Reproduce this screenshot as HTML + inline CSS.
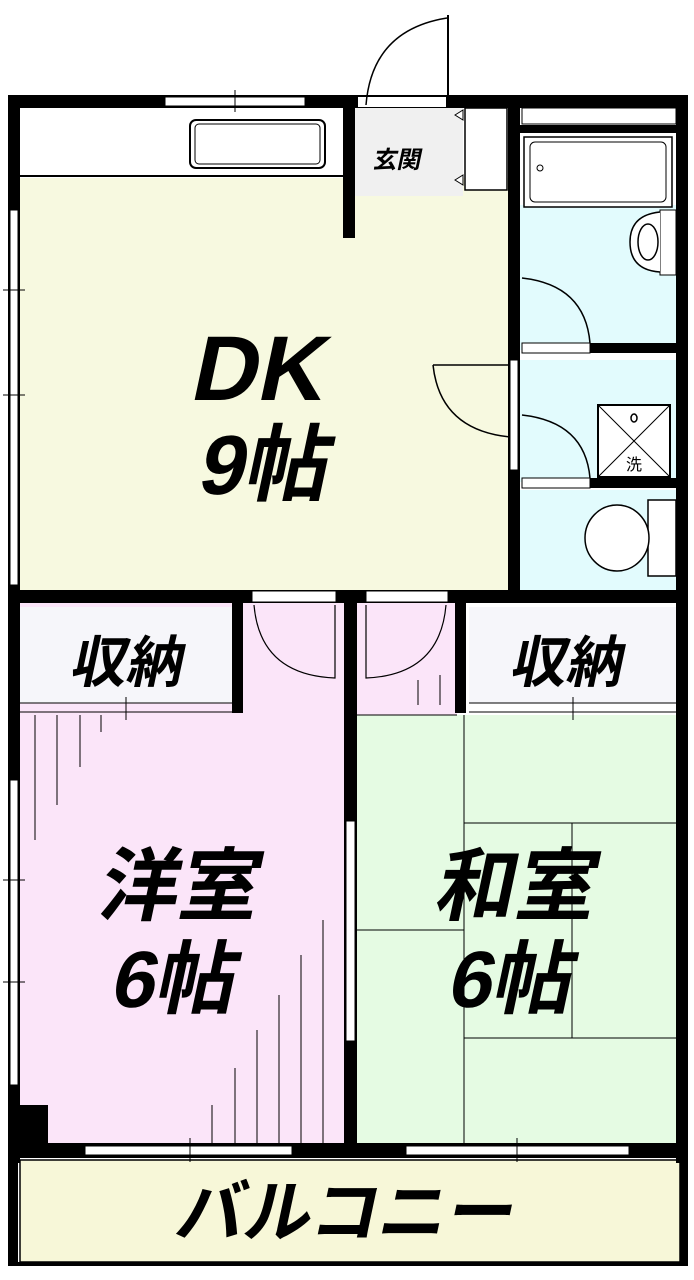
<!DOCTYPE html>
<html><head><meta charset="utf-8"><style>
html,body{margin:0;padding:0;background:#fff;}
svg{display:block}
text{font-family:"Liberation Sans","Noto Sans CJK JP",sans-serif;font-weight:bold;fill:#000}
</style></head><body>
<svg width="694" height="1280" viewBox="0 0 694 1280" xmlns="http://www.w3.org/2000/svg">
<rect width="694" height="1280" fill="#fff"/>
<rect x="20" y="178" width="490" height="415" fill="#f7f9e0"/>
<rect x="20" y="108" width="325" height="70" fill="#fff"/>
<rect x="355" y="108" width="108" height="88" fill="#f0f0f0"/>
<rect x="520" y="205" width="158" height="145" fill="#e2fbfd"/>
<rect x="520" y="360" width="158" height="122" fill="#e2fbfd"/>
<rect x="520" y="490" width="158" height="103" fill="#e2fbfd"/>
<rect x="20" y="603" width="325" height="540" fill="#fbe5f9"/>
<rect x="357" y="603" width="100" height="112" fill="#fbe5f9"/>
<rect x="357" y="715" width="322" height="428" fill="#e5fbe3"/>
<rect x="20" y="607" width="212" height="96" fill="#f6f6fa"/>
<rect x="469" y="607" width="210" height="96" fill="#f6f6fa"/>
<rect x="20" y="1160" width="660" height="102" fill="#f7f7d8"/>
<rect x="20" y="1160" width="660" height="102" fill="none" stroke="#000" stroke-width="1.5"/>
<g fill="#000">
<rect x="8" y="95" width="680" height="13"/>
<rect x="8" y="95" width="12" height="1068"/>
<rect x="676" y="95" width="12" height="1068"/>
<rect x="8" y="1143" width="680" height="15"/>
<rect x="8" y="590" width="670" height="13"/>
<rect x="508" y="95" width="12" height="500"/>
<rect x="343" y="108" width="12" height="130"/>
<rect x="344" y="603" width="13" height="555"/>
<rect x="232" y="603" width="11" height="110"/>
<rect x="455" y="603" width="11" height="110"/>
<rect x="520" y="125" width="158" height="8"/>
<rect x="590" y="343" width="88" height="10"/>
<rect x="590" y="478" width="88" height="10"/>
<rect x="18" y="1105" width="30" height="40"/>
<rect x="8" y="1158" width="10" height="108"/>
<rect x="680" y="1158" width="8" height="108"/>
<rect x="8" y="1262" width="680" height="4"/>
</g>
<g fill="#fff" stroke="#000" stroke-width="1">
<rect x="165" y="97" width="140" height="9"/>
<rect x="358" y="97" width="88" height="10" stroke="none"/>
<rect x="10" y="210" width="8" height="375"/>
<rect x="10" y="780" width="8" height="305"/>
<rect x="510" y="360" width="8" height="110"/>
<rect x="252" y="591" width="84" height="11"/>
<rect x="366" y="591" width="82" height="11"/>
<rect x="346" y="821" width="9" height="220"/>
<rect x="85" y="1146" width="207" height="9"/>
<rect x="406" y="1146" width="223" height="9"/>
<rect x="522" y="108" width="154" height="16"/>
<rect x="522" y="343" width="68" height="10"/>
<rect x="522" y="478" width="68" height="10"/>
</g>
<line x1="235" y1="90" x2="235" y2="112" stroke="#000"/>
<line x1="3" y1="290" x2="25" y2="290" stroke="#000"/>
<line x1="3" y1="395" x2="25" y2="395" stroke="#000"/>
<line x1="3" y1="880" x2="25" y2="880" stroke="#000"/>
<line x1="3" y1="982" x2="25" y2="982" stroke="#000"/>
<line x1="190" y1="1138" x2="190" y2="1162" stroke="#000"/>
<line x1="517" y1="1138" x2="517" y2="1162" stroke="#000"/>
<line x1="20" y1="176" x2="343" y2="176" stroke="#000" stroke-width="2"/>
<rect x="190" y="120" width="135" height="48" rx="6" fill="#fff" stroke="#000" stroke-width="2"/>
<rect x="195" y="124" width="125" height="40" rx="4" fill="none" stroke="#000" stroke-width="1"/>
<rect x="465" y="108" width="42" height="82" fill="#fff" stroke="#000" stroke-width="1.5"/>
<path d="M455 115 l8 -5 v10z M455 180 l8 -5 v10z" fill="#fff" stroke="#000"/>
<path d="M366 105 Q372 30 447 18" fill="none" stroke="#000" stroke-width="1.5"/>
<line x1="448" y1="15" x2="448" y2="105" stroke="#000" stroke-width="2"/>
<path d="M433 365 L510 365 M433 365 Q440 430 510 437" fill="none" stroke="#000" stroke-width="1.5"/>
<rect x="524" y="137" width="148" height="70" fill="#fff" stroke="#000" stroke-width="1.5"/>
<rect x="530" y="142" width="136" height="60" rx="5" fill="none" stroke="#000"/>
<circle cx="540" cy="168" r="3" fill="none" stroke="#000"/>
<rect x="660" y="210" width="16" height="65" fill="#fff" stroke="#000"/>
<path d="M660 212 Q630 215 630 242 Q630 270 660 272" fill="#fff" stroke="#000" stroke-width="1.5"/>
<ellipse cx="648" cy="242" rx="10" ry="18" fill="none" stroke="#000" stroke-width="1.5"/>
<path d="M522 278 Q585 285 590 343" fill="none" stroke="#000" stroke-width="1.5"/>
<path d="M522 415 Q585 422 590 478" fill="none" stroke="#000" stroke-width="1.5"/>
<rect x="598" y="405" width="72" height="72" fill="#fff" stroke="#000" stroke-width="2"/>
<path d="M598 405 L670 477 M670 405 L598 477" stroke="#000"/>
<ellipse cx="634" cy="418" rx="3" ry="4" fill="none" stroke="#000" stroke-width="1.5"/>
<text x="634" y="470" font-size="16" text-anchor="middle" style="font-weight:normal">洗</text>
<rect x="648" y="500" width="28" height="76" fill="#fff" stroke="#000" stroke-width="1.5"/>
<ellipse cx="617" cy="538" rx="32" ry="33" fill="#fff" stroke="#000" stroke-width="1.5"/>
<path d="M254 605 Q260 675 335 678 L335 605" fill="none" stroke="#000" stroke-width="1.2"/>
<path d="M446 605 Q440 675 366 678 L366 605" fill="none" stroke="#000" stroke-width="1.2"/>
<g stroke="#000" stroke-width="1">
<line x1="20" y1="703" x2="232" y2="703"/><line x1="20" y1="712" x2="232" y2="712"/>
<line x1="469" y1="703" x2="676" y2="703"/><line x1="469" y1="712" x2="676" y2="712"/>
<line x1="126" y1="697" x2="126" y2="720"/><line x1="573" y1="697" x2="573" y2="720"/>
<line x1="357" y1="715" x2="457" y2="715"/>
<line x1="464" y1="715" x2="464" y2="1143"/>
<line x1="464" y1="823" x2="676" y2="823"/>
<line x1="572" y1="823" x2="572" y2="1038"/>
<line x1="464" y1="1038" x2="676" y2="1038"/>
<line x1="357" y1="930" x2="464" y2="930"/>
<line x1="35" y1="715" x2="35" y2="840"/><line x1="57" y1="715" x2="57" y2="805"/>
<line x1="80" y1="715" x2="80" y2="767"/><line x1="101" y1="715" x2="101" y2="732"/>
<line x1="323" y1="920" x2="323" y2="1143"/><line x1="301" y1="955" x2="301" y2="1143"/>
<line x1="279" y1="995" x2="279" y2="1143"/><line x1="257" y1="1030" x2="257" y2="1143"/>
<line x1="235" y1="1068" x2="235" y2="1143"/><line x1="212" y1="1105" x2="212" y2="1143"/>
<line x1="418" y1="680" x2="418" y2="705"/><line x1="440" y1="675" x2="440" y2="705"/>
</g>
<g transform="skewX(-12)">
<text x="340" y="400" font-size="92" text-anchor="middle">DK</text>
<text x="366" y="494" font-size="84" text-anchor="middle">9帖</text>
<text x="432" y="168" font-size="24" text-anchor="middle">玄関</text>
<text x="270" y="682" font-size="56" text-anchor="middle">収納</text>
<text x="710" y="682" font-size="56" text-anchor="middle">収納</text>
<text x="370" y="914" font-size="80" text-anchor="middle">洋室</text>
<text x="385" y="1007" font-size="80" text-anchor="middle">6帖</text>
<text x="707" y="914" font-size="80" text-anchor="middle">和室</text>
<text x="722" y="1007" font-size="80" text-anchor="middle">6帖</text>
<text x="605" y="1236" font-size="68" text-anchor="middle">バルコニー</text>
</g>
</svg>
</body></html>
